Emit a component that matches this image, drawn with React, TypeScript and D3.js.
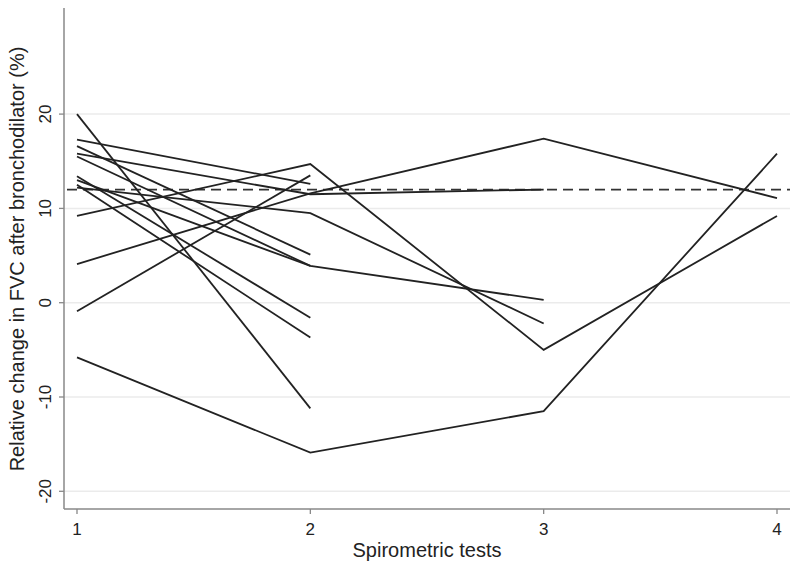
import React from "react";
import * as d3 from "d3";

const tests = [1, 2, 3, 4];
const yTicks = [-20, -10, 0, 10, 20];
const threshold = 12;

const p1 = [20, -11.2];
const p2 = [17.3, 12.6];
const p3 = [16.6, 5.1];
const p4 = [15.8, 11.5, 12.0];
const p5 = [15.5, 3.9, 0.3];
const p6 = [13.4, -1.6];
const p7 = [13.0, 3.9];
const p8 = [12.5, -3.7];
const p9 = [12.2, 9.5, -2.2];
const p10 = [9.2, 14.7, -5.0, 9.2];
const p11 = [4.1, 11.6, 17.4, 11.1];
const p12 = [-0.9, 13.5];
const p13 = [-5.8, -15.9, -11.5, 15.8];
const patients = [p1, p2, p3, p4, p5, p6, p7, p8, p9, p10, p11, p12, p13];

const W = 800;
const H = 568;
const axisX = 64;
const axisY = 509;
const rightEdge = 790;

export default function App() {
  const x = d3.scaleLinear().domain([1, 4]).range([77, 777]);
  const y = d3.scaleLinear().domain([-20, 20]).range([491.3, 114.1]);
  const line = d3
    .line<number>()
    .x((_, i) => x(tests[i]))
    .y((d) => y(d));
  const font = "'Liberation Sans', Arial, Helvetica, sans-serif";
  return (
    <svg
      width={W}
      height={H}
      style={{ position: "absolute", left: 0, top: 0, background: "#fff" }}
      fontFamily={font}
    >
      <rect x={0} y={0} width={W} height={H} fill="#fff" />
      {yTicks.map((t) => (
        <line
          key={"g" + t}
          x1={axisX}
          x2={rightEdge}
          y1={y(t)}
          y2={y(t)}
          stroke="#ebebeb"
          strokeWidth={1.5}
        />
      ))}
      <line
        x1={axisX + 3}
        x2={rightEdge}
        y1={y(threshold)}
        y2={y(threshold)}
        stroke="#333"
        strokeWidth={1.8}
        strokeDasharray="10 6"
      />
      {patients.map((p, i) => (
        <path
          key={"p" + i}
          d={line(p) || ""}
          fill="none"
          stroke="#222"
          strokeWidth={1.8}
        />
      ))}
      <line x1={axisX} x2={axisX} y1={8} y2={axisY} stroke="#888" strokeWidth={1.5} />
      <line x1={axisX} x2={rightEdge} y1={axisY} y2={axisY} stroke="#888" strokeWidth={1.5} />
      {yTicks.map((t) => (
        <g key={"yt" + t}>
          <line x1={axisX - 5} x2={axisX} y1={y(t)} y2={y(t)} stroke="#888" strokeWidth={1.3} />
          <text
            transform={`translate(${51},${y(t)}) rotate(-90)`}
            textAnchor="middle"
            fontSize={17}
            fill="#222"
          >
            {t}
          </text>
        </g>
      ))}
      {tests.map((t) => (
        <g key={"xt" + t}>
          <line x1={x(t)} x2={x(t)} y1={axisY} y2={axisY + 5} stroke="#888" strokeWidth={1.3} />
          <text x={x(t)} y={535} textAnchor="middle" fontSize={17} fill="#222">
            {t}
          </text>
        </g>
      ))}
      <text x={427} y={557} textAnchor="middle" fontSize={20} fill="#222">
        Spirometric tests
      </text>
      <text
        transform={`translate(${24},${259}) rotate(-90)`}
        textAnchor="middle"
        fontSize={20}
        fill="#222"
      >
        Relative change in FVC after bronchodilator (%)
      </text>
    </svg>
  );
}
